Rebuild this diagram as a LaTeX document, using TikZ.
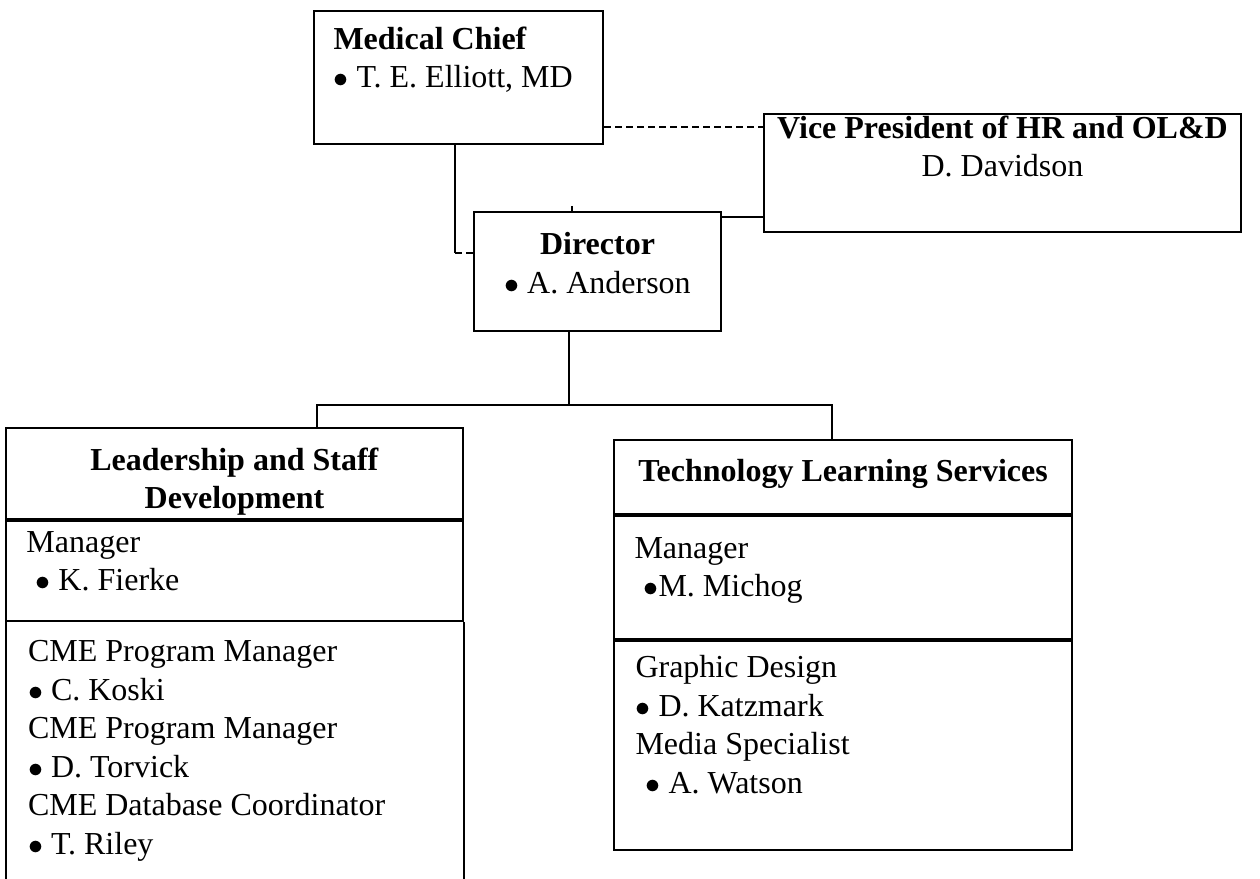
\documentclass[tikz,border=0pt]{standalone}
\usepackage{fontspec}
\setmainfont{Liberation Serif}
\usetikzlibrary{positioning, calc}

\newcommand{\bul}{$\bullet$}

\begin{document}
\begin{tikzpicture}[
  x=0.4pt, y=-0.4pt,
  every node/.style={font=\fontsize{12.8}{15.4}\selectfont, inner sep=0pt},
  orgbox/.style n args={2}{draw, rectangle, line width=0.8pt, anchor=north west,
    minimum width=#1*0.4pt, minimum height=#2*0.4pt},
  opensection/.style n args={2}{rectangle, anchor=north west,
    minimum width=#1*0.4pt, minimum height=#2*0.4pt},
  entry/.style={anchor=north west, align=left},
  title/.style={anchor=north, align=center},
  link/.style={draw, line width=0.7pt},
  dotted link/.style={link, dash pattern=on 2.6pt off 1.8pt}
]
\useasboundingbox (0,0) rectangle (1260,879);

% top level
\node[orgbox={289}{133}] (mc) at (313,10) {};
\node[orgbox={477}{118}] (vp) at (763,113) {};
\node[orgbox={247}{119}] (dir) at (473,211) {};

\node[entry] (mctext) at ([shift={(20,16)}]mc.north west)
  {\textbf{Medical Chief}\\\bul\ T. E. Elliott, MD};
\node[title] (vptext) at ([shift={(0,2)}]vp.north)
  {\textbf{Vice President of HR and OL\&D}\\D. Davidson};
\node[title] (dirtext) at ([shift={(0,21)}]dir.north)
  {\textbf{Director}\\\bul\ A. Anderson};

% departments
\node[orgbox={457}{91}] (lsdhead) at (5,427) {};
\node[orgbox={457}{100}, below=0pt of lsdhead] (lsdmgr) {};
\node[opensection={457}{261}, below=0pt of lsdmgr] (lsdstaff) {};
\draw[line width=0.8pt] (lsdstaff.north west) -- (lsdstaff.south west);
\draw[line width=0.8pt] (lsdstaff.north east) -- (lsdstaff.south east);

\node[orgbox={458}{74}] (tlshead) at (613,439) {};
\node[orgbox={458}{123}, below=0pt of tlshead] (tlsmgr) {};
\node[orgbox={458}{209}, below=0pt of tlsmgr] (tlsstaff) {};

\node[title] (lsdheadtext) at ([shift={(0,20)}]lsdhead.north)
  {\textbf{Leadership and Staff}\\\textbf{Development}};
\node[entry] (lsdmgrtext) at ([shift={(21,11)}]lsdmgr.north west)
  {Manager\\\hspace*{3.6pt}\bul\ K. Fierke};
\node[entry] (lsdstafftext) at ([shift={(22,18)}]lsdstaff.north west)
  {CME Program Manager\\\bul\ C. Koski\\CME Program Manager\\\bul\ D. Torvick\\
   CME Database Coordinator\\\bul\ T. Riley};

\node[title] (tlsheadtext) at ([shift={(0,20)}]tlshead.north)
  {\textbf{Technology Learning Services}};
\node[entry] (tlsmgrtext) at ([shift={(21,22)}]tlsmgr.north west)
  {Manager\\\hspace*{3.6pt}\bul M. Michog};
\node[entry] (tlsstafftext) at ([shift={(22,15)}]tlsstaff.north west)
  {Graphic Design\\\bul\ D. Katzmark\\Media Specialist\\\hspace*{4pt}\bul\ A. Watson};

% connectors
\coordinate (mcdrop) at (455,253);
\draw[link] (mcdrop |- mc.south) -- (mcdrop);
\draw[dotted link] (mcdrop) -- (mcdrop -| dir.west);
\coordinate (mcvp) at ($(mc.south east)+(0,-18)$);
\draw[dotted link] (mcvp) -- (mcvp -| vp.west);
\coordinate (dirtick) at (572,206);
\draw[link] (dirtick) -- (dirtick |- dir.north);
\coordinate (dirvp) at ($(dir.north east)+(0,6)$);
\draw[link] (dirvp) -- (dirvp -| vp.west);

\coordinate (split) at (569,405);
\coordinate (splitl) at (317,405);
\coordinate (splitr) at (832,405);
\draw[link] (split |- dir.south) -- (split);
\draw[link] (splitl |- lsdhead.north) -- (splitl) -- (splitr) -- (splitr |- tlshead.north);

\end{tikzpicture}
\end{document}
